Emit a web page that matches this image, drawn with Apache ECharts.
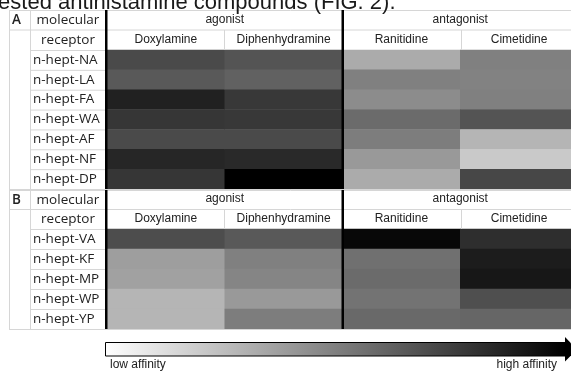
<!DOCTYPE html>
<html><head><meta charset="utf-8">
<script src="https://cdn.jsdelivr.net/npm/echarts@6/dist/echarts.min.js"></script>
<style>html,body{margin:0;padding:0;background:#fff}#c{width:571px;height:376px}</style>
</head><body><div id="c"></div>
<script>
// ---- data ----
const compounds = ['Doxylamine', 'Diphenhydramine', 'Ranitidine', 'Cimetidine'];
const groups = ['agonist', 'antagonist'];
const receptorsA = ['n-hept-NA', 'n-hept-LA', 'n-hept-FA', 'n-hept-WA', 'n-hept-AF', 'n-hept-NF', 'n-hept-DP'];
const receptorsB = ['n-hept-VA', 'n-hept-KF', 'n-hept-MP', 'n-hept-WP', 'n-hept-YP'];
// affinity (0 = low, 100 = high), one value per receptor row
const affinityA_Doxylamine      = [71, 65, 87, 79, 71, 85, 79];
const affinityA_Diphenhydramine = [67, 62, 78, 78, 71, 84, 100];
const affinityA_Ranitidine      = [33, 50, 45, 58, 51, 40, 33];
const affinityA_Cimetidine      = [50, 49, 50, 67, 29, 21, 72];
const affinityB_Doxylamine      = [70, 38, 37, 29, 29];
const affinityB_Diphenhydramine = [65, 50, 48, 40, 51];
const affinityB_Ranitidine      = [97, 56, 58, 55, 59];
const affinityB_Cimetidine      = [82, 89, 91, 69, 60];
const panelLetters = ['A', 'B'];
const headerLabels = ['molecular', 'receptor'];
const legendLabels = ['low affinity', 'high affinity'];
const titleText = 'tested antihistamine compounds (FIG. 2).';

// ---- build ----
function cells(cols) {
  const out = [];
  cols.forEach((arr, c) => arr.forEach((v, r) => out.push([c, r, v])));
  return out;
}
const dataA = cells([affinityA_Doxylamine, affinityA_Diphenhydramine, affinityA_Ranitidine, affinityA_Cimetidine]);
const dataB = cells([affinityB_Doxylamine, affinityB_Diphenhydramine, affinityB_Ranitidine, affinityB_Cimetidine]);

const HEAD_FONT = '"Liberation Sans", Arial, sans-serif';
const LAB_FONT = '"Open Sans", sans-serif';
const LIGHT = '#d6d6d6';
const TXT = '#222';

const panels = [
  { top: 10, dataTop: 50, dataH: 139, rows: receptorsA.length },
  { top: 190, dataTop: 229, dataH: 100, rows: receptorsB.length }
];

const gfx = [];
function line(x1, y1, x2, y2, stroke, w) {
  gfx.push({ type: 'line', z: 50, silent: true, shape: { x1, y1, x2, y2 }, style: { stroke: stroke || LIGHT, lineWidth: w || 1 } });
}
function text(t, x, y, opt) {
  gfx.push({ type: 'text', z: 50, silent: true, x, y, style: Object.assign({ text: t, fill: TXT, font: '12px ' + HEAD_FONT, align: 'center', verticalAlign: 'middle' }, opt || {}) });
}

panels.forEach((p, i) => {
  const bottom = p.dataTop + p.dataH;
  const mid = p.top + (p.dataTop - p.top) / 2;
  line(9, p.top + 0.5, 580, p.top + 0.5);
  line(9, mid, 580, mid);
  line(9.5, p.top, 9.5, bottom);
  line(30.5, p.top, 30.5, bottom);
  line(9, bottom + 0.5, 580, bottom + 0.5);
  const rh = p.dataH / p.rows;
  for (let r = 0; r < p.rows; r++) line(30, p.dataTop + r * rh + 0.5, 105, p.dataTop + r * rh + 0.5);
  line(224.5, mid, 224.5, p.dataTop);
  line(461.5, mid, 461.5, p.dataTop);
  gfx.push({ type: 'rect', z: 60, silent: true, shape: { x: 105, y: p.top, width: 2.5, height: bottom - p.top }, style: { fill: '#000' } });
  gfx.push({ type: 'rect', z: 60, silent: true, shape: { x: 341.5, y: p.top, width: 2.5, height: bottom - p.top }, style: { fill: '#000' } });
  text(panelLetters[i], 12, p.top + 10, { align: 'left', font: '600 13.5px ' + LAB_FONT });
  text(headerLabels[0], 68, p.top + 10, { font: '13.5px ' + LAB_FONT });
  text(headerLabels[1], 68, mid + 10, { font: '13.5px ' + LAB_FONT });
});

// title (cropped at the top of the picture)
text(titleText, -8, 2.5, { align: 'left', font: '22px ' + HEAD_FONT, fill: '#1a1a1a' });

// affinity legend arrow
gfx.push({ type: 'rect', z: 50, silent: true, shape: { x: 105.5, y: 342.5, width: 460, height: 13.5 },
  style: { stroke: '#000', lineWidth: 1, fill: new echarts.graphic.LinearGradient(0, 0, 1, 0, [{ offset: 0, color: '#ffffff' }, { offset: 1, color: '#000000' }]) } });
gfx.push({ type: 'polygon', z: 51, silent: true, shape: { points: [[565, 337], [577, 349.25], [565, 361.5]] }, style: { fill: '#000' } });
text(legendLabels[0], 110, 365, { align: 'left' });
text(legendLabels[1], 557, 365, { align: 'right' });

const grids = [], xAxes = [], yAxes = [], series = [];
panels.forEach((p, i) => {
  grids.push({ left: 107, top: p.dataTop, width: 471, height: p.dataH, outerBoundsMode: 'none', containLabel: false });
  xAxes.push({ type: 'category', gridIndex: i, data: compounds, position: 'top',
    axisLine: { show: false }, axisTick: { show: false }, splitLine: { show: false },
    axisLabel: { interval: 0, margin: 4, fontSize: 12, fontFamily: HEAD_FONT, color: TXT } });
  xAxes.push({ type: 'category', gridIndex: i, data: groups, position: 'top', offset: 20,
    axisLine: { show: false }, axisTick: { show: false }, splitLine: { show: false },
    axisLabel: { interval: 0, margin: 4, fontSize: 12, fontFamily: HEAD_FONT, color: TXT } });
  yAxes.push({ type: 'category', gridIndex: i, data: i === 0 ? receptorsA : receptorsB, inverse: true,
    axisLine: { show: false }, axisTick: { show: false }, splitLine: { show: false },
    axisLabel: { interval: 0, align: 'left', margin: 74, fontSize: 13.5, fontFamily: LAB_FONT, color: TXT } });
  series.push({ type: 'heatmap', xAxisIndex: i * 2, yAxisIndex: i, data: i === 0 ? dataA : dataB,
    itemStyle: { borderWidth: 0 }, emphasis: { disabled: true }, animation: false });
});

const chart = echarts.init(document.getElementById('c'), null, { renderer: 'canvas' });
chart.setOption({
  animation: false,
  backgroundColor: '#fff',
  grid: grids, xAxis: xAxes, yAxis: yAxes, series,
  visualMap: { type: 'continuous', show: false, min: 0, max: 100, seriesIndex: [0, 1], inRange: { color: ['#ffffff', '#000000'] } },
  graphic: gfx
});
</script></body></html>
